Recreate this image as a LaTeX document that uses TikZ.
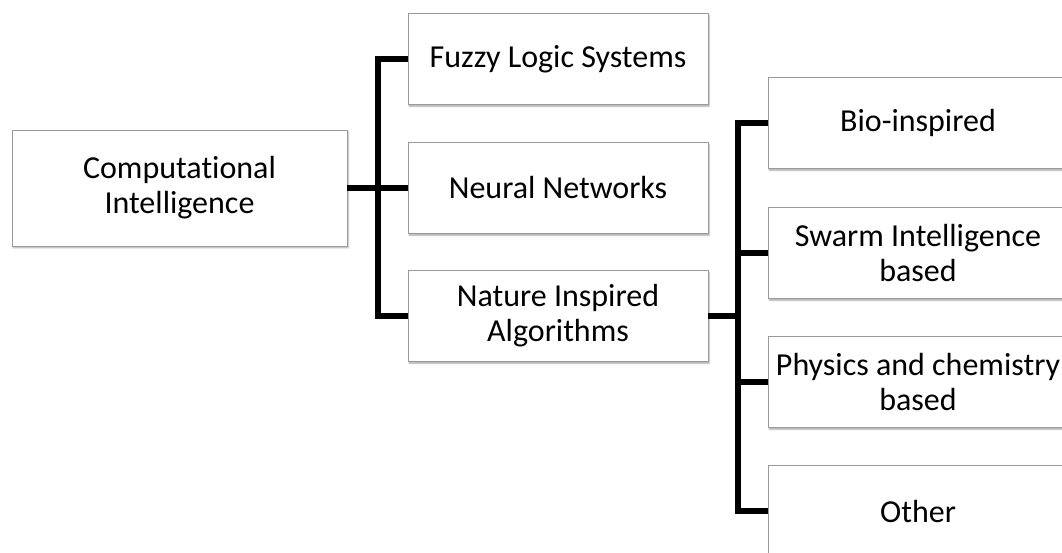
\documentclass[tikz,border=0pt]{standalone}
\usepackage{fontspec}
\setmainfont[Ligatures=NoCommon]{Carlito}
\usetikzlibrary{shadows.blur}
\definecolor{boxline}{HTML}{9A9A9A}
\tikzset{
  catbox/.style={draw=boxline, line width=0.9pt, fill=white, align=center,
    inner sep=2pt, minimum width=300pt, minimum height=91pt,
    font=\fontsize{32}{35}\selectfont,
    blur shadow={shadow xshift=1.2pt, shadow yshift=-1.8pt, shadow opacity=35,
      shadow blur radius=1.5pt, shadow blur steps=5}},
  conn/.style={line width=5.5pt, line join=miter, line cap=butt}
}
\begin{document}
\begin{tikzpicture}[x=1pt, y=-1pt]
  \useasboundingbox (0,0) rectangle (1062,552);
  \clip (0,0) rectangle (1062,552);

  % root
  \node[catbox, minimum width=335pt, minimum height=116pt] (ci) at (179.5,188)
    {Computational\\Intelligence};

  % first level
  \node[catbox] (fz) at (558,59)  {Fuzzy Logic Systems};
  \node[catbox] (nn) at (558,188) {Neural Networks};
  \node[catbox] (na) at (558,316) {Nature Inspired\\Algorithms};

  % second level
  \node[catbox] (bio) at (918,123) {Bio-inspired};
  \node[catbox] (sw)  at (918,253) {Swarm Intelligence\\based};
  \node[catbox] (ph)  at (918,382) {Physics and chemistry\\based};
  \node[catbox] (oth) at (918,511) {Other};

  % junctions of the bracket connectors
  \coordinate (j1) at (378,188);
  \coordinate (j2) at (738,316);

  \draw[conn] (ci.east) -- (nn.west);
  \draw[conn] (fz.west) -| (j1) |- (na.west);

  \draw[conn] (na.east) -- (j2);
  \draw[conn] (bio.west) -| (j2) |- (oth.west);
  \draw[conn] (j2 |- sw.west) -- (sw.west);
  \draw[conn] (j2 |- ph.west) -- (ph.west);
\end{tikzpicture}
\end{document}
